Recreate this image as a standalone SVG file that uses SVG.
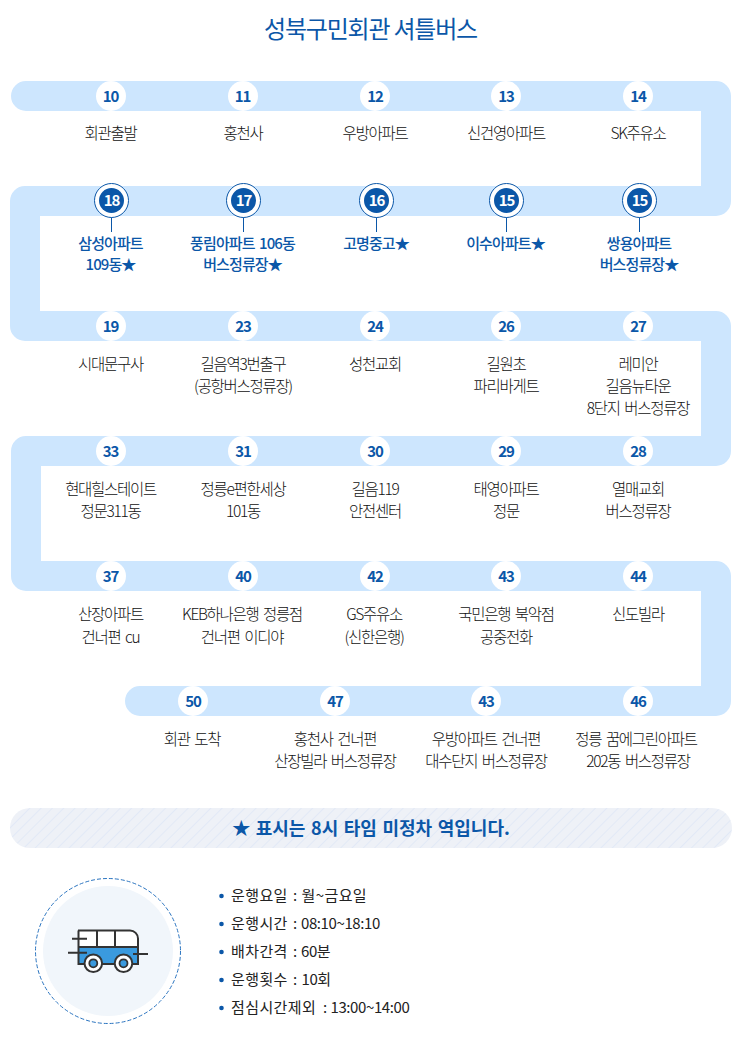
<svg xmlns="http://www.w3.org/2000/svg" width="742" height="1037" viewBox="0 0 742 1037">
<style>
text{font-family:"Noto Sans CJK KR","Noto Sans",sans-serif;text-anchor:middle}
.n{font-size:15px;font-weight:700;fill:#0b57a8;letter-spacing:-1.2px}
.w{font-size:15px;font-weight:700;fill:#fff;letter-spacing:-1.2px}
.l{font-size:15.5px;font-weight:300;fill:#111;letter-spacing:-1.3px;word-spacing:2.500px;transform:translateY(.6px)}
.s{font-size:15px;font-weight:500;fill:#0b57a8;letter-spacing:-.9px;word-spacing:2px;transform:translateY(.6px)}
.i{font-size:15px;font-weight:400;fill:#222;text-anchor:start;letter-spacing:.4px}
.d{letter-spacing:-.4px}
.b{fill:#0b57a8}
.c{fill:#fff}
.o{fill:#fff;stroke:#0b57a8;stroke-width:1}
.k{stroke:#0b57a8;stroke-width:1}
.h{fill:none;stroke:#333;stroke-width:2}
</style>
<defs>
<pattern id="hatch" width="8" height="8" patternUnits="userSpaceOnUse" patternTransform="rotate(45)">
<rect width="8" height="8" fill="#eef1f7"/><rect width="1" height="8" fill="#e2e9f6"/>
</pattern>
</defs>
<rect width="742" height="1037" fill="#fff"/>
<text id="title" x="370.500" y="38" font-size="24" fill="#0b57a8" style="letter-spacing:-1.2px">성북구민회관 셔틀버스</text>

<g id="connectors">
<path id="track" fill="#cde6fe" d="M26 81H716a15 15 0 0 1 15 15V201a15 15 0 0 1-15 15H40V311H716a15 15 0 0 1 15 15V451a15 15 0 0 1-15 15H41V561H716a15 15 0 0 1 15 15V701a15 15 0 0 1-15 15H140a15 15 0 0 1 0-30H701V591H26a15 15 0 0 1-15-15V451a15 15 0 0 1 15-15H701V341H25a15 15 0 0 1-15-15V201a15 15 0 0 1 15-15H701V111H26a15 15 0 0 1 0-30Z"/>
<path class="k" d="M111.500 217V232M243.500 217V232M376.500 217V232M506.500 217V232M639.500 217V232"/>
</g>

<g id="s1"><circle class="c" cx="111" cy="96" r="15"/><text class="n" x="110.500" y="101.500">10</text><text class="l" x="110.500" y="138">회관출발</text></g>
<g id="s2"><circle class="c" cx="243" cy="96" r="15"/><text class="n" x="242.500" y="101.500">11</text><text class="l" x="243" y="138">홍천사</text></g>
<g id="s3"><circle class="c" cx="375" cy="96" r="15"/><text class="n" x="375" y="101.500">12</text><text class="l" x="375" y="138">우방아파트</text></g>
<g id="s4"><circle class="c" cx="506" cy="96" r="15"/><text class="n" x="506" y="101.500">13</text><text class="l" x="506" y="138">신건영아파트</text></g>
<g id="s5"><circle class="c" cx="638" cy="96" r="15"/><text class="n" x="638" y="101.500">14</text><text class="l" x="638" y="138">SK주유소</text></g>

<g id="s6"><circle class="o" cx="111.500" cy="200.500" r="17"/><circle class="b" cx="111.500" cy="200.500" r="12.500"/><text class="w" x="111.500" y="206">18</text><text class="s" x="110.500" y="248">삼성아파트</text><text class="s" x="110.500" y="269">109동★</text></g>
<g id="s7"><circle class="o" cx="243.500" cy="200.500" r="17"/><circle class="b" cx="243.500" cy="200.500" r="12.500"/><text class="w" x="243.500" y="206">17</text><text class="s" x="242.500" y="248">풍림아파트 106동</text><text class="s" x="242.500" y="269">버스정류장★</text></g>
<g id="s8"><circle class="o" cx="376.500" cy="200.500" r="17"/><circle class="b" cx="376.500" cy="200.500" r="12.500"/><text class="w" x="376.500" y="206">16</text><text class="s" x="376" y="248">고명중고★</text></g>
<g id="s9"><circle class="o" cx="506.500" cy="200.500" r="17"/><circle class="b" cx="506.500" cy="200.500" r="12.500"/><text class="w" x="506.500" y="206">15</text><text class="s" x="505.500" y="248">이수아파트★</text></g>
<g id="s10"><circle class="o" cx="639.500" cy="200.500" r="17"/><circle class="b" cx="639.500" cy="200.500" r="12.500"/><text class="w" x="639.500" y="206">15</text><text class="s" x="639" y="248">쌍용아파트</text><text class="s" x="639" y="269">버스정류장★</text></g>

<g id="s11"><circle class="c" cx="111" cy="326" r="15"/><text class="n" x="110.500" y="331.500">19</text><text class="l" x="110.500" y="369">시대문구사</text></g>
<g id="s12"><circle class="c" cx="243" cy="326" r="15"/><text class="n" x="243" y="331.500">23</text><text class="l" x="243" y="369">길음역3번출구</text><text class="l" x="243" y="391">(공항버스정류장)</text></g>
<g id="s13"><circle class="c" cx="375" cy="326" r="15"/><text class="n" x="375" y="331.500">24</text><text class="l" x="375" y="369">성천교회</text></g>
<g id="s14"><circle class="c" cx="506" cy="326" r="15"/><text class="n" x="506" y="331.500">26</text><text class="l" x="506" y="369">길원초</text><text class="l" x="506" y="391">파리바게트</text></g>
<g id="s15"><circle class="c" cx="638" cy="326" r="15"/><text class="n" x="638" y="331.500">27</text><text class="l" x="638" y="369">레미안</text><text class="l" x="638" y="391">길음뉴타운</text><text class="l" x="638" y="413">8단지 버스정류장</text></g>

<g id="s16"><circle class="c" cx="111" cy="451" r="15"/><text class="n" x="110.500" y="456.500">33</text><text class="l" x="110.500" y="494">현대힐스테이트</text><text class="l" x="110.500" y="516">정문311동</text></g>
<g id="s17"><circle class="c" cx="243" cy="451" r="15"/><text class="n" x="243" y="456.500">31</text><text class="l" x="243" y="494">정릉e편한세상</text><text class="l" x="243" y="516">101동</text></g>
<g id="s18"><circle class="c" cx="375" cy="451" r="15"/><text class="n" x="375" y="456.500">30</text><text class="l" x="375" y="494">길음119</text><text class="l" x="375" y="516">안전센터</text></g>
<g id="s19"><circle class="c" cx="506" cy="451" r="15"/><text class="n" x="506" y="456.500">29</text><text class="l" x="506" y="494">태영아파트</text><text class="l" x="506" y="516">정문</text></g>
<g id="s20"><circle class="c" cx="638" cy="451" r="15"/><text class="n" x="638" y="456.500">28</text><text class="l" x="638" y="494">열매교회</text><text class="l" x="638" y="516">버스정류장</text></g>

<g id="s21"><circle class="c" cx="111" cy="576" r="15"/><text class="n" x="110.500" y="581.500">37</text><text class="l" x="110.500" y="619">산장아파트</text><text class="l" x="110.500" y="642">건너편 cu</text></g>
<g id="s22"><circle class="c" cx="243" cy="576" r="15"/><text class="n" x="243" y="581.500">40</text><text class="l" x="242" y="619">KEB하나은행 정릉점</text><text class="l" x="242" y="642">건너편 이디야</text></g>
<g id="s23"><circle class="c" cx="375" cy="576" r="15"/><text class="n" x="375" y="581.500">42</text><text class="l" x="374" y="619">GS주유소</text><text class="l" x="374" y="642">(신한은행)</text></g>
<g id="s24"><circle class="c" cx="506" cy="576" r="15"/><text class="n" x="506" y="581.500">43</text><text class="l" x="506" y="619">국민은행 북악점</text><text class="l" x="506" y="642">공중전화</text></g>
<g id="s25"><circle class="c" cx="638" cy="576" r="15"/><text class="n" x="638" y="581.500">44</text><text class="l" x="638" y="619">신도빌라</text></g>

<g id="s26"><circle class="c" cx="193" cy="701" r="15"/><text class="n" x="193" y="706.500">50</text><text class="l" x="192" y="744">회관 도착</text></g>
<g id="s27"><circle class="c" cx="335" cy="701" r="15"/><text class="n" x="335" y="706.500">47</text><text class="l" x="335" y="744">홍천사 건너편</text><text class="l" x="335" y="766">산장빌라 버스정류장</text></g>
<g id="s28"><circle class="c" cx="486" cy="701" r="15"/><text class="n" x="486" y="706.500">43</text><text class="l" x="486" y="744">우방아파트 건너편</text><text class="l" x="486" y="766">대수단지 버스정류장</text></g>
<g id="s29"><circle class="c" cx="638" cy="701" r="15"/><text class="n" x="638" y="706.500">46</text><text class="l" x="636" y="744">정릉 꿈에그린아파트</text><text class="l" x="638" y="766">202동 버스정류장</text></g>

<g id="notice">
<rect x="10" y="808" width="722" height="40" rx="20" fill="url(#hatch)"/>
<text x="371" y="834.500" font-size="18" font-weight="700" fill="#0b57a8" style="word-spacing:1.500px">★ 표시는 8시 타임 미정차 역입니다.</text>
</g>

<g id="bus-icon">
<circle cx="108" cy="951" r="72.500" fill="#fff" stroke="#2a74c0" stroke-width="1" stroke-dasharray="4 2"/>
<circle cx="108" cy="951" r="65" fill="#f1f6fb"/>
<path d="M78 947H138V964H78Z" fill="#3a9ade"/>
<path d="M78 947V930H130a8 8 0 0 1 8 8V947Z" fill="#fff"/>
<path class="h" d="M78 930.500H130a8 8 0 0 1 8 8V964H78.500V930.500M78 947H138M97 930V947M115 930V947M72 938.700H87M68 952.700H87M133 954H148"/>
<circle cx="93.300" cy="963.300" r="8.800" fill="#fff" stroke="#333" stroke-width="2"/>
<circle cx="93.300" cy="963.300" r="4" fill="#3a9ade" stroke="#333" stroke-width="1.800"/>
<circle cx="123.500" cy="963.300" r="8.800" fill="#fff" stroke="#333" stroke-width="2"/>
<circle cx="123.500" cy="963.300" r="4" fill="#3a9ade" stroke="#333" stroke-width="1.800"/>
</g>

<g id="info">
<circle class="b" cx="221.500" cy="896" r="2.300"/><text class="i" x="231" y="901">운행요일<tspan x="293">:</tspan><tspan x="301.500">월~금요일</tspan></text>
<circle class="b" cx="221.500" cy="924" r="2.300"/><text class="i" x="231" y="929">운행시간<tspan x="293">:</tspan><tspan class="d" x="301">08:10~18:10</tspan></text>
<circle class="b" cx="221.500" cy="952" r="2.300"/><text class="i" x="231" y="957">배차간격<tspan x="293">:</tspan><tspan class="d" x="301">60분</tspan></text>
<circle class="b" cx="221.500" cy="980" r="2.300"/><text class="i" x="231" y="985">운행횟수<tspan x="293">:</tspan><tspan class="d" x="301.500">10회</tspan></text>
<circle class="b" cx="221.500" cy="1008" r="2.300"/><text class="i" x="231" y="1013">점심시간제외<tspan x="323">:</tspan><tspan class="d" x="330.500">13:00~14:00</tspan></text>
</g>
</svg>
